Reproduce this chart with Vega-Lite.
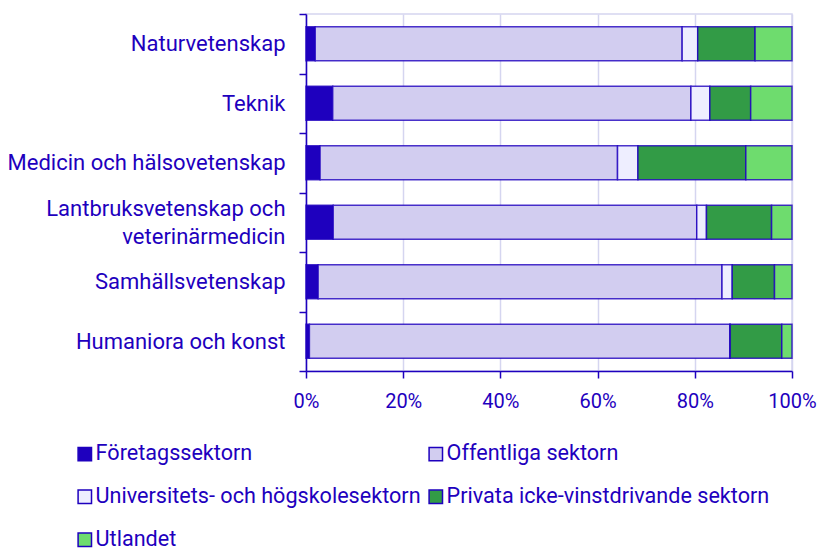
{
  "$schema": "https://vega.github.io/schema/vega-lite/v6.json",
  "width": 486,
  "height": 357,
  "autosize": {"type": "none"},
  "padding": {"left": 306, "top": 14, "right": 28, "bottom": 178},
  "config": {"view": {"stroke": "#D5D5F0", "strokeWidth": 1.5}, "font": "Roboto"},
  "data": {"values": [
    {"omrade": "Naturvetenskap", "sektor": "Företagssektorn", "nr": 1, "andel": 1.9},
    {"omrade": "Naturvetenskap", "sektor": "Offentliga sektorn", "nr": 2, "andel": 75.5},
    {"omrade": "Naturvetenskap", "sektor": "Universitets- och högskolesektorn", "nr": 3, "andel": 3.2},
    {"omrade": "Naturvetenskap", "sektor": "Privata icke-vinstdrivande sektorn", "nr": 4, "andel": 11.8},
    {"omrade": "Naturvetenskap", "sektor": "Utlandet", "nr": 5, "andel": 7.6},
    {"omrade": "Teknik", "sektor": "Företagssektorn", "nr": 1, "andel": 5.5},
    {"omrade": "Teknik", "sektor": "Offentliga sektorn", "nr": 2, "andel": 73.7},
    {"omrade": "Teknik", "sektor": "Universitets- och högskolesektorn", "nr": 3, "andel": 3.9},
    {"omrade": "Teknik", "sektor": "Privata icke-vinstdrivande sektorn", "nr": 4, "andel": 8.4},
    {"omrade": "Teknik", "sektor": "Utlandet", "nr": 5, "andel": 8.5},
    {"omrade": "Medicin och hälsovetenskap", "sektor": "Företagssektorn", "nr": 1, "andel": 2.9},
    {"omrade": "Medicin och hälsovetenskap", "sektor": "Offentliga sektorn", "nr": 2, "andel": 61.2},
    {"omrade": "Medicin och hälsovetenskap", "sektor": "Universitets- och högskolesektorn", "nr": 3, "andel": 4.2},
    {"omrade": "Medicin och hälsovetenskap", "sektor": "Privata icke-vinstdrivande sektorn", "nr": 4, "andel": 22.2},
    {"omrade": "Medicin och hälsovetenskap", "sektor": "Utlandet", "nr": 5, "andel": 9.5},
    {"omrade": "Lantbruksvetenskap och veterinärmedicin", "sektor": "Företagssektorn", "nr": 1, "andel": 5.6},
    {"omrade": "Lantbruksvetenskap och veterinärmedicin", "sektor": "Offentliga sektorn", "nr": 2, "andel": 74.8},
    {"omrade": "Lantbruksvetenskap och veterinärmedicin", "sektor": "Universitets- och högskolesektorn", "nr": 3, "andel": 2.0},
    {"omrade": "Lantbruksvetenskap och veterinärmedicin", "sektor": "Privata icke-vinstdrivande sektorn", "nr": 4, "andel": 13.4},
    {"omrade": "Lantbruksvetenskap och veterinärmedicin", "sektor": "Utlandet", "nr": 5, "andel": 4.2},
    {"omrade": "Samhällsvetenskap", "sektor": "Företagssektorn", "nr": 1, "andel": 2.5},
    {"omrade": "Samhällsvetenskap", "sektor": "Offentliga sektorn", "nr": 2, "andel": 83.1},
    {"omrade": "Samhällsvetenskap", "sektor": "Universitets- och högskolesektorn", "nr": 3, "andel": 2.1},
    {"omrade": "Samhällsvetenskap", "sektor": "Privata icke-vinstdrivande sektorn", "nr": 4, "andel": 8.7},
    {"omrade": "Samhällsvetenskap", "sektor": "Utlandet", "nr": 5, "andel": 3.6},
    {"omrade": "Humaniora och konst", "sektor": "Företagssektorn", "nr": 1, "andel": 0.7},
    {"omrade": "Humaniora och konst", "sektor": "Offentliga sektorn", "nr": 2, "andel": 86.5},
    {"omrade": "Humaniora och konst", "sektor": "Universitets- och högskolesektorn", "nr": 3, "andel": 0.1},
    {"omrade": "Humaniora och konst", "sektor": "Privata icke-vinstdrivande sektorn", "nr": 4, "andel": 10.6},
    {"omrade": "Humaniora och konst", "sektor": "Utlandet", "nr": 5, "andel": 2.1}
  ]},
  "mark": {"type": "bar", "stroke": "#1E00BE", "strokeWidth": 1.5, "strokeOpacity": 0.8, "height": {"band": 0.57}},
  "encoding": {
    "y": {
      "field": "omrade", "type": "nominal",
      "sort": ["Naturvetenskap", "Teknik", "Medicin och hälsovetenskap", "Lantbruksvetenskap och veterinärmedicin", "Samhällsvetenskap", "Humaniora och konst"],
      "scale": {"paddingInner": 0, "paddingOuter": 0},
      "axis": {
        "title": null, "tickBand": "extent", "tickSize": 7, "tickColor": "#1E00BE", "tickWidth": 1.5,
        "domainColor": "#1E00BE", "domainWidth": 1.5, "labelColor": "#1E00BE", "labelFontSize": 22,
        "labelPadding": 14, "labelLimit": 400, "labelLineHeight": 28, "grid": false,
        "labelOffset": {"condition": {"test": "datum.value == 'Lantbruksvetenskap och veterinärmedicin'", "value": -14}, "value": 0},
        "labelExpr": "datum.value == 'Lantbruksvetenskap och veterinärmedicin' ? ['Lantbruksvetenskap och', 'veterinärmedicin\u00a0\u00a0\u00a0\u00a0\u00a0\u00a0\u00a0'] : datum.value"
      }
    },
    "x": {
      "field": "andel", "type": "quantitative", "stack": "normalize",
      "scale": {"domain": [0, 1], "nice": false},
      "axis": {
        "title": null, "format": ".0%", "values": [0, 0.2, 0.4, 0.6, 0.8, 1], "labelFlush": false,
        "tickSize": 7, "tickColor": "#1E00BE", "tickWidth": 1.5,
        "domainColor": "#1E00BE", "domainWidth": 1.5, "labelColor": "#1E00BE", "labelFontSize": 20,
        "labelPadding": 13, "grid": true, "gridColor": "#D5D5F0", "gridWidth": 1.5
      }
    },
    "color": {
      "field": "sektor", "type": "nominal",
      "scale": {
        "domain": ["Företagssektorn", "Offentliga sektorn", "Universitets- och högskolesektorn", "Privata icke-vinstdrivande sektorn", "Utlandet"],
        "range": ["#1E00BE", "#D2CDF0", "#EEEEFF", "#329B46", "#6EDC6E"]
      },
      "legend": {
        "orient": "none", "legendX": -232, "legendY": 429, "direction": "horizontal", "columns": 2,
        "title": null, "symbolType": "square", "symbolSize": 180, "symbolStrokeColor": "#1E00BE",
        "symbolStrokeWidth": 1.5, "labelFontSize": 21.6, "labelColor": "#1E00BE", "labelOffset": 0,
        "rowPadding": 20, "columnPadding": 4, "labelLimit": 400, "padding": 0
      }
    },
    "order": {"field": "nr", "type": "quantitative"}
  }
}
